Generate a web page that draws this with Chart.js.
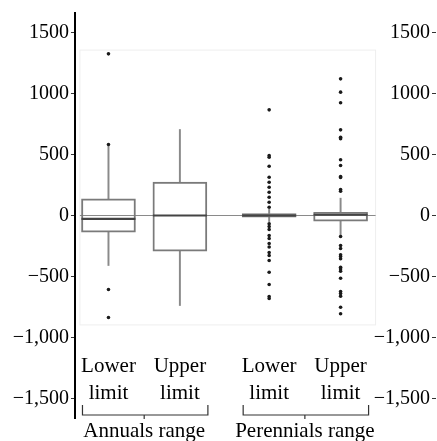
<!DOCTYPE html>
<html><head><meta charset="utf-8">
<script src="https://cdn.jsdelivr.net/npm/chart.js@4/dist/chart.umd.min.js"></script>
<style>html,body{margin:0;padding:0;background:#fff}#wrap{width:437px;height:441px;position:relative}</style>
</head><body><div id="wrap"><canvas id="c"></canvas></div>
<script>
// ---- data ----
const categories = ['Lower limit', 'Upper limit', 'Lower limit', 'Upper limit'];
const categoryPositions = [1, 2, 3.25, 4.25];
const groups = ['Annuals range', 'Perennials range'];
const groupMembers = [[0, 1], [2, 3]];
const q1 = [-137, -293, -14, -47];
const q3 = [137, 273, 16, 27];
const medians = [-27, 0, 0, 6];
const whiskerLow = [-410, -738, -50, -164];
const whiskerHigh = [570, 705, 50, 142];
const outliersAnnualLower = [1325, 582, -607, -836];
const outliersAnnualUpper = [];
const outliersPerennialLower = [866, 492, 478, 404, 314, 273, 232, 191, 150, 109, 68, -68, -90, -115, -164, -189, -230, -258, -303, -328, -369, -465, -566, -664, -680];
const outliersPerennialUpper = [1120, 1011, 924, 702, 642, 629, 457, 410, 320, 311, 213, 199, -172, -246, -270, -322, -336, -355, -424, -439, -457, -514, -623, -639, -661, -752, -806];
const yTickValues = [-1500, -1000, -500, 0, 500, 1000, 1500];
const yTickLabels = ['\u22121,500', '\u22121,000', '\u2212500', '0', '500', '1000', '1500'];

// ---- layout constants ----
const Y_MIN = -1660, Y_MAX = 1660;
const X_MIN = 0.531, X_MAX = 5.53;
const PANEL = {xMin: 0.6, xMax: 4.74, yMin: -897, yMax: 1356};
const FONT = 'Liberation Serif';

const outlierSets = [outliersAnnualLower, outliersAnnualUpper, outliersPerennialLower, outliersPerennialUpper];
const boxData = categoryPositions.map((x, i) => ({x, y: [q1[i], q3[i]]}));
const lowWhiskerData = categoryPositions.map((x, i) => ({x, y: [whiskerLow[i], q1[i]]}));
const highWhiskerData = categoryPositions.map((x, i) => ({x, y: [q3[i], whiskerHigh[i]]}));
const medianData = categoryPositions.map((x, i) => ({x, y: medians[i]}));
const outlierData = [];
outlierSets.forEach((arr, i) => arr.forEach(v => outlierData.push({x: categoryPositions[i], y: v})));
const groupCenters = groupMembers.map(m => m.reduce((s, i) => s + categoryPositions[i], 0) / m.length);

const decor = {
  id: 'decor',
  beforeDatasetsDraw(chart) {
    const {ctx, scales: {x, y}} = chart;
    ctx.save();
    ctx.strokeStyle = '#eeeeee';
    ctx.lineWidth = 1;
    const l = x.getPixelForValue(PANEL.xMin), r = x.getPixelForValue(PANEL.xMax);
    const t = y.getPixelForValue(PANEL.yMax), b = y.getPixelForValue(PANEL.yMin);
    ctx.strokeRect(l, t, r - l, b - t);
    ctx.strokeStyle = '#8a8a8a';
    ctx.lineWidth = 1.2;
    const y0 = y.getPixelForValue(0);
    ctx.beginPath(); ctx.moveTo(l, y0); ctx.lineTo(r, y0); ctx.stroke();
    ctx.restore();
  },
  afterDraw(chart) {
    const {ctx, scales: {x}, chartArea} = chart;
    ctx.save();
    ctx.fillStyle = '#000';
    ctx.font = '21px "' + FONT + '"';
    ctx.textAlign = 'center';
    ctx.textBaseline = 'alphabetic';
    const b = chartArea.bottom;
    categories.forEach((lab, i) => {
      const px = x.getPixelForValue(categoryPositions[i]);
      const parts = lab.split(' ');
      ctx.fillText(parts[0], px, b - 46);
      ctx.fillText(parts[1], px, b - 19);
    });
    groups.forEach((g, gi) => {
      ctx.fillText(g, x.getPixelForValue(groupCenters[gi]), b + 19);
    });
    ctx.strokeStyle = '#333';
    ctx.lineWidth = 1.2;
    const by = b - 3;
    groupMembers.forEach((m, gi) => {
      const l = x.getPixelForValue(categoryPositions[m[0]]) - 26;
      const r = x.getPixelForValue(categoryPositions[m[m.length - 1]]) + 28;
      const c = x.getPixelForValue(groupCenters[gi]);
      ctx.beginPath();
      ctx.moveTo(l, by - 10); ctx.lineTo(l, by); ctx.lineTo(r, by); ctx.lineTo(r, by - 10);
      ctx.moveTo(c, by); ctx.lineTo(c, by + 4);
      ctx.stroke();
    });
    ctx.restore();
  }
};

const yTicksCommon = {
  min: Y_MIN, max: Y_MAX,
  afterBuildTicks: s => { s.ticks = yTickValues.map(v => ({value: v})); },
};

new Chart(document.getElementById('c'), {
  type: 'bar',
  data: {
    datasets: [
      {type: 'bar', data: lowWhiskerData, barThickness: 1.3, backgroundColor: '#8a8a8a', borderWidth: 0, grouped: false, order: 4},
      {type: 'bar', data: highWhiskerData, barThickness: 1.3, backgroundColor: '#8a8a8a', borderWidth: 0, grouped: false, order: 4},
      {type: 'bar', data: boxData, barThickness: 54, backgroundColor: 'rgba(255,255,255,0)', borderColor: '#7a7a7a', borderWidth: 1.3, borderSkipped: false, grouped: false, order: 3},
      {type: 'scatter', data: medianData, pointStyle: 'line', pointRadius: 27, pointBorderColor: '#444', pointBorderWidth: 2.2, order: 2},
      {type: 'scatter', data: outlierData, pointRadius: 1.8, pointBackgroundColor: '#1a1a1a', pointBorderWidth: 0, order: 1}
    ]
  },
  options: {
    responsive: true,
    maintainAspectRatio: false,
    animation: false,
    events: [],
    layout: {autoPadding: false, padding: {left: 10.7, right: 5, top: 13, bottom: 23}},
    plugins: {legend: {display: false}, tooltip: {enabled: false}},
    scales: {
      x: {
        type: 'linear', min: X_MIN, max: X_MAX, offset: false, display: false
      },
      y: Object.assign({}, yTicksCommon, {
        position: 'left',
        grid: {drawOnChartArea: false, tickLength: 4, tickColor: '#333', tickWidth: 1},
        border: {display: true, color: '#000', width: 2},
        ticks: {callback: (v, i) => yTickLabels[i], font: {family: FONT, size: 20, lineHeight: 1}, color: '#000', padding: 2}
      }),
      y2: Object.assign({}, yTicksCommon, {
        position: 'right',
        grid: {drawOnChartArea: false, tickLength: 4, tickColor: '#333', tickWidth: 1},
        border: {display: false},
        ticks: {mirror: true, callback: (v, i) => yTickLabels[i], font: {family: FONT, size: 20, lineHeight: 1}, color: '#000', padding: -2}
      })
    }
  },
  plugins: [decor]
});
</script></body></html>
